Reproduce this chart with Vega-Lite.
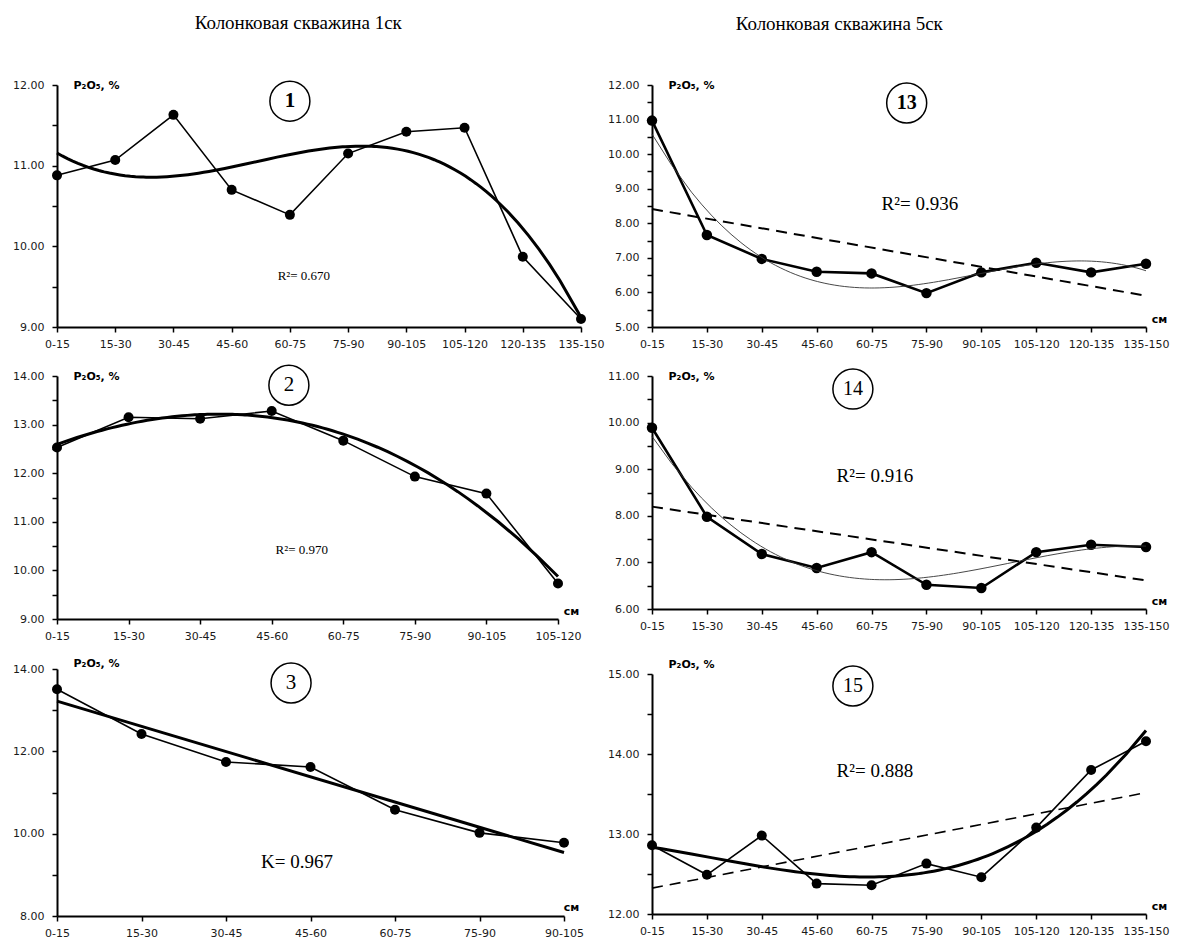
{
  "$schema": "https://vega.github.io/schema/vega-lite/v6.json",
  "background": "white",
  "padding": {"left": 12, "top": 14, "right": 2, "bottom": 2},
  "datasets": {
    "pts": [
      {"p": 1, "i": 1, "v": 10.88}, {"p": 1, "i": 2, "v": 11.07}, {"p": 1, "i": 3, "v": 11.63}, {"p": 1, "i": 4, "v": 10.70}, {"p": 1, "i": 5, "v": 10.39},
      {"p": 1, "i": 6, "v": 11.15}, {"p": 1, "i": 7, "v": 11.42}, {"p": 1, "i": 8, "v": 11.47}, {"p": 1, "i": 9, "v": 9.87}, {"p": 1, "i": 10, "v": 9.10},
      {"p": 2, "i": 1, "v": 12.53}, {"p": 2, "i": 2, "v": 13.15}, {"p": 2, "i": 3, "v": 13.12}, {"p": 2, "i": 4, "v": 13.28}, {"p": 2, "i": 5, "v": 12.67},
      {"p": 2, "i": 6, "v": 11.93}, {"p": 2, "i": 7, "v": 11.58}, {"p": 2, "i": 8, "v": 9.73},
      {"p": 3, "i": 1, "v": 13.51}, {"p": 3, "i": 2, "v": 12.42}, {"p": 3, "i": 3, "v": 11.74}, {"p": 3, "i": 4, "v": 11.62}, {"p": 3, "i": 5, "v": 10.58},
      {"p": 3, "i": 6, "v": 10.02}, {"p": 3, "i": 7, "v": 9.78},
      {"p": 13, "i": 1, "v": 10.97}, {"p": 13, "i": 2, "v": 7.66}, {"p": 13, "i": 3, "v": 6.97}, {"p": 13, "i": 4, "v": 6.60}, {"p": 13, "i": 5, "v": 6.55},
      {"p": 13, "i": 6, "v": 5.98}, {"p": 13, "i": 7, "v": 6.58}, {"p": 13, "i": 8, "v": 6.86}, {"p": 13, "i": 9, "v": 6.58}, {"p": 13, "i": 10, "v": 6.83},
      {"p": 14, "i": 1, "v": 9.89}, {"p": 14, "i": 2, "v": 7.98}, {"p": 14, "i": 3, "v": 7.18}, {"p": 14, "i": 4, "v": 6.88}, {"p": 14, "i": 5, "v": 7.22},
      {"p": 14, "i": 6, "v": 6.52}, {"p": 14, "i": 7, "v": 6.45}, {"p": 14, "i": 8, "v": 7.22}, {"p": 14, "i": 9, "v": 7.38}, {"p": 14, "i": 10, "v": 7.33},
      {"p": 15, "i": 1, "v": 12.86}, {"p": 15, "i": 2, "v": 12.49}, {"p": 15, "i": 3, "v": 12.98}, {"p": 15, "i": 4, "v": 12.38}, {"p": 15, "i": 5, "v": 12.36},
      {"p": 15, "i": 6, "v": 12.63}, {"p": 15, "i": 7, "v": 12.46}, {"p": 15, "i": 8, "v": 13.08}, {"p": 15, "i": 9, "v": 13.80}, {"p": 15, "i": 10, "v": 14.16}
    ],
    "notes": [
      {"p": 1, "k": "c", "i": 5.0, "v": 11.8, "t": "1"},
      {"p": 1, "k": "r", "i": 5.24, "v": 9.63, "t": "R²= 0.670"},
      {"p": 2, "k": "c", "i": 4.24, "v": 13.81, "t": "2"},
      {"p": 2, "k": "r", "i": 4.42, "v": 10.42, "t": "R²= 0.970"},
      {"p": 3, "k": "c", "i": 3.77, "v": 13.66, "t": "3"},
      {"p": 3, "k": "r", "i": 3.84, "v": 9.32, "t": "K= 0.967"},
      {"p": 13, "k": "c", "i": 5.64, "v": 11.48, "t": "13"},
      {"p": 13, "k": "r", "i": 5.88, "v": 8.55, "t": "R²= 0.936"},
      {"p": 14, "k": "c", "i": 4.66, "v": 10.72, "t": "14"},
      {"p": 14, "k": "r", "i": 5.06, "v": 8.85, "t": "R²= 0.916"},
      {"p": 15, "k": "c", "i": 4.66, "v": 14.85, "t": "15"},
      {"p": 15, "k": "r", "i": 5.06, "v": 13.79, "t": "R²= 0.888"}
    ]
  },
  "spacing": 3,
  "hconcat": [
    {
      "title": {"text": "Колонковая скважина 1ск", "anchor": "middle", "font": "Liberation Serif", "fontSize": 19, "fontWeight": "normal", "offset": 45, "dx": -10},
      "spacing": 16,
      "vconcat": [
        {
          "spacing": 13,
          "vconcat": [
            {
              "width": 524, "height": 242,
              "layer": [
                {"data": {"name": "pts"}, "transform": [{"filter": "datum.p == 1"}],
                 "mark": {"type": "line", "color": "black", "strokeWidth": 1.6, "point": {"filled": true, "size": 100, "color": "black"}},
                 "encoding": {
                   "x": {"field": "i", "type": "quantitative", "scale": {"domain": [1, 10], "nice": false, "zero": false},
                         "axis": {"values": [1,2,3,4,5,6,7,8,9,10], "labelExpr": "['0-15','15-30','30-45','45-60','60-75','75-90','90-105','105-120','120-135','135-150'][datum.value-1]", "title": null, "labelOverlap": false, "labelFlush": false}},
                   "y": {"field": "v", "type": "quantitative", "scale": {"domain": [9, 12], "nice": false, "zero": false},
                         "axis": {"values": [9,9.5,10,10.5,11,11.5,12], "labelExpr": "round(datum.value * 2) % 2 == 0 ? format(datum.value, '.2f') : ''", "labelOverlap": false, "title": "P₂O₅, %", "titleX": 16, "titleY": 0, "titleAngle": 0, "titleAlign": "left", "titleBaseline": "middle"}}
                 }},
                {"data": {"name": "pts"}, "transform": [{"filter": "datum.p == 1"}, {"regression": "v", "on": "i", "method": "poly", "order": 3}],
                 "mark": {"type": "line", "color": "black", "strokeWidth": 3},
                 "encoding": {"x": {"field": "i", "type": "quantitative"}, "y": {"field": "v", "type": "quantitative"}}},
                {"data": {"name": "notes"}, "transform": [{"filter": "datum.p == 1 && datum.k == 'c'"}],
                 "mark": {"type": "point", "shape": "circle", "size": 1600, "filled": false, "stroke": "black", "strokeWidth": 1.5, "opacity": 1},
                 "encoding": {"x": {"field": "i", "type": "quantitative"}, "y": {"field": "v", "type": "quantitative"}}},
                {"data": {"name": "notes"}, "transform": [{"filter": "datum.p == 1 && datum.k == 'c'"}],
                 "mark": {"type": "text", "font": "Liberation Serif", "fontSize": 21, "fontWeight": "bold", "color": "black", "baseline": "middle"},
                 "encoding": {"x": {"field": "i", "type": "quantitative"}, "y": {"field": "v", "type": "quantitative"}, "text": {"field": "t"}}},
                {"data": {"name": "notes"}, "transform": [{"filter": "datum.p == 1 && datum.k == 'r'"}],
                 "mark": {"type": "text", "font": "Liberation Serif", "fontSize": 13, "color": "black", "baseline": "middle"},
                 "encoding": {"x": {"field": "i", "type": "quantitative"}, "y": {"field": "v", "type": "quantitative"}, "text": {"field": "t"}}}
              ]
            },
            {
              "width": 501, "height": 243,
              "layer": [
                {"data": {"name": "pts"}, "transform": [{"filter": "datum.p == 2"}],
                 "mark": {"type": "line", "color": "black", "strokeWidth": 1.6, "point": {"filled": true, "size": 100, "color": "black"}},
                 "encoding": {
                   "x": {"field": "i", "type": "quantitative", "scale": {"domain": [1, 8], "nice": false, "zero": false},
                         "axis": {"values": [1,2,3,4,5,6,7,8], "labelExpr": "['0-15','15-30','30-45','45-60','60-75','75-90','90-105','105-120','120-135','135-150'][datum.value-1]", "title": "см", "titleX": 514, "titleY": -8, "titleAngle": 0, "titleAlign": "center", "titleBaseline": "middle", "labelOverlap": false, "labelFlush": false}},
                   "y": {"field": "v", "type": "quantitative", "scale": {"domain": [9, 14], "nice": false, "zero": false},
                         "axis": {"values": [9,9.5,10,10.5,11,11.5,12,12.5,13,13.5,14], "labelExpr": "round(datum.value * 2) % 2 == 0 ? format(datum.value, '.2f') : ''", "labelOverlap": false, "title": "P₂O₅, %", "titleX": 16, "titleY": 0, "titleAngle": 0, "titleAlign": "left", "titleBaseline": "middle"}}
                 }},
                {"data": {"name": "pts"}, "transform": [{"filter": "datum.p == 2"}, {"regression": "v", "on": "i", "method": "poly", "order": 3}],
                 "mark": {"type": "line", "color": "black", "strokeWidth": 3},
                 "encoding": {"x": {"field": "i", "type": "quantitative"}, "y": {"field": "v", "type": "quantitative"}}},
                {"data": {"name": "notes"}, "transform": [{"filter": "datum.p == 2 && datum.k == 'c'"}],
                 "mark": {"type": "point", "shape": "circle", "size": 1600, "filled": false, "stroke": "black", "strokeWidth": 1.5, "opacity": 1},
                 "encoding": {"x": {"field": "i", "type": "quantitative"}, "y": {"field": "v", "type": "quantitative"}}},
                {"data": {"name": "notes"}, "transform": [{"filter": "datum.p == 2 && datum.k == 'c'"}],
                 "mark": {"type": "text", "font": "Liberation Serif", "fontSize": 21, "fontWeight": "normal", "color": "black", "baseline": "middle"},
                 "encoding": {"x": {"field": "i", "type": "quantitative"}, "y": {"field": "v", "type": "quantitative"}, "text": {"field": "t"}}},
                {"data": {"name": "notes"}, "transform": [{"filter": "datum.p == 2 && datum.k == 'r'"}],
                 "mark": {"type": "text", "font": "Liberation Serif", "fontSize": 13, "color": "black", "baseline": "middle"},
                 "encoding": {"x": {"field": "i", "type": "quantitative"}, "y": {"field": "v", "type": "quantitative"}, "text": {"field": "t"}}}
              ]
            }
          ]
        },
        {
          "width": 507, "height": 247,
          "layer": [
            {"data": {"name": "pts"}, "transform": [{"filter": "datum.p == 3"}],
             "mark": {"type": "line", "color": "black", "strokeWidth": 1.6, "point": {"filled": true, "size": 100, "color": "black"}},
             "encoding": {
               "x": {"field": "i", "type": "quantitative", "scale": {"domain": [1, 7], "nice": false, "zero": false},
                     "axis": {"values": [1,2,3,4,5,6,7], "labelExpr": "['0-15','15-30','30-45','45-60','60-75','75-90','90-105','105-120','120-135','135-150'][datum.value-1]", "title": "см", "titleX": 514, "titleY": -9, "titleAngle": 0, "titleAlign": "center", "titleBaseline": "middle", "labelOverlap": false, "labelFlush": false}},
               "y": {"field": "v", "type": "quantitative", "scale": {"domain": [8, 14], "nice": false, "zero": false},
                     "axis": {"values": [8,9,10,11,12,13,14], "labelExpr": "round(datum.value) % 2 == 0 ? format(datum.value, '.2f') : ''", "labelOverlap": false, "title": "P₂O₅, %", "titleX": 16, "titleY": -6, "titleAngle": 0, "titleAlign": "left", "titleBaseline": "middle"}}
             }},
            {"data": {"name": "pts"}, "transform": [{"filter": "datum.p == 3"}, {"regression": "v", "on": "i", "method": "linear"}],
             "mark": {"type": "line", "color": "black", "strokeWidth": 3},
             "encoding": {"x": {"field": "i", "type": "quantitative"}, "y": {"field": "v", "type": "quantitative"}}},
            {"data": {"name": "notes"}, "transform": [{"filter": "datum.p == 3 && datum.k == 'c'"}],
             "mark": {"type": "point", "shape": "circle", "size": 1600, "filled": false, "stroke": "black", "strokeWidth": 1.5, "opacity": 1},
             "encoding": {"x": {"field": "i", "type": "quantitative"}, "y": {"field": "v", "type": "quantitative"}}},
            {"data": {"name": "notes"}, "transform": [{"filter": "datum.p == 3 && datum.k == 'c'"}],
             "mark": {"type": "text", "font": "Liberation Serif", "fontSize": 21, "fontWeight": "normal", "color": "black", "baseline": "middle"},
             "encoding": {"x": {"field": "i", "type": "quantitative"}, "y": {"field": "v", "type": "quantitative"}, "text": {"field": "t"}}},
            {"data": {"name": "notes"}, "transform": [{"filter": "datum.p == 3 && datum.k == 'r'"}],
             "mark": {"type": "text", "font": "Liberation Serif", "fontSize": 19, "color": "black", "baseline": "middle"},
             "encoding": {"x": {"field": "i", "type": "quantitative"}, "y": {"field": "v", "type": "quantitative"}, "text": {"field": "t"}}}
          ]
        }
      ]
    },
    {
      "title": {"text": "Колонковая скважина 5ск", "anchor": "middle", "font": "Liberation Serif", "fontSize": 19, "fontWeight": "normal", "offset": 45, "dx": -49},
      "spacing": 27,
      "vconcat": [
        {
          "spacing": 17,
          "vconcat": [
            {
              "width": 494, "height": 242,
              "layer": [
                {"data": {"name": "pts"}, "transform": [{"filter": "datum.p == 13"}],
                 "mark": {"type": "line", "color": "black", "strokeWidth": 2.6, "point": {"filled": true, "size": 110, "color": "black"}},
                 "encoding": {
                   "x": {"field": "i", "type": "quantitative", "scale": {"domain": [1, 10], "nice": false, "zero": false},
                         "axis": {"values": [1,2,3,4,5,6,7,8,9,10], "labelExpr": "['0-15','15-30','30-45','45-60','60-75','75-90','90-105','105-120','120-135','135-150'][datum.value-1]", "title": "см", "titleX": 507, "titleY": -8, "titleAngle": 0, "titleAlign": "center", "titleBaseline": "middle", "labelOverlap": false, "labelFlush": false}},
                   "y": {"field": "v", "type": "quantitative", "scale": {"domain": [5, 12], "nice": false, "zero": false},
                         "axis": {"values": [5,5.5,6,6.5,7,7.5,8,8.5,9,9.5,10,10.5,11,11.5,12], "tickCount": 100, "labelExpr": "round(datum.value * 2) % 2 == 0 ? format(datum.value, '.2f') : ''", "labelOverlap": false, "title": "P₂O₅, %", "titleX": 16, "titleY": 0, "titleAngle": 0, "titleAlign": "left", "titleBaseline": "middle"}}
                 }},
                {"data": {"name": "pts"}, "transform": [{"filter": "datum.p == 13"}, {"regression": "v", "on": "i", "method": "poly", "order": 3}],
                 "mark": {"type": "line", "color": "#333333", "strokeWidth": 0.9},
                 "encoding": {"x": {"field": "i", "type": "quantitative"}, "y": {"field": "v", "type": "quantitative"}}},
                {"data": {"name": "pts"}, "transform": [{"filter": "datum.p == 13"}, {"regression": "v", "on": "i", "method": "linear"}],
                 "mark": {"type": "line", "color": "black", "strokeWidth": 2, "strokeDash": [11, 7]},
                 "encoding": {"x": {"field": "i", "type": "quantitative"}, "y": {"field": "v", "type": "quantitative"}}},
                {"data": {"name": "notes"}, "transform": [{"filter": "datum.p == 13 && datum.k == 'c'"}],
                 "mark": {"type": "point", "shape": "circle", "size": 1600, "filled": false, "stroke": "black", "strokeWidth": 1.5, "opacity": 1},
                 "encoding": {"x": {"field": "i", "type": "quantitative"}, "y": {"field": "v", "type": "quantitative"}}},
                {"data": {"name": "notes"}, "transform": [{"filter": "datum.p == 13 && datum.k == 'c'"}],
                 "mark": {"type": "text", "font": "Liberation Serif", "fontSize": 20, "fontWeight": "bold", "color": "black", "baseline": "middle"},
                 "encoding": {"x": {"field": "i", "type": "quantitative"}, "y": {"field": "v", "type": "quantitative"}, "text": {"field": "t"}}},
                {"data": {"name": "notes"}, "transform": [{"filter": "datum.p == 13 && datum.k == 'r'"}],
                 "mark": {"type": "text", "font": "Liberation Serif", "fontSize": 19, "color": "black", "baseline": "middle"},
                 "encoding": {"x": {"field": "i", "type": "quantitative"}, "y": {"field": "v", "type": "quantitative"}, "text": {"field": "t"}}}
              ]
            },
            {
              "width": 494, "height": 233,
              "layer": [
                {"data": {"name": "pts"}, "transform": [{"filter": "datum.p == 14"}],
                 "mark": {"type": "line", "color": "black", "strokeWidth": 2.6, "point": {"filled": true, "size": 110, "color": "black"}},
                 "encoding": {
                   "x": {"field": "i", "type": "quantitative", "scale": {"domain": [1, 10], "nice": false, "zero": false},
                         "axis": {"values": [1,2,3,4,5,6,7,8,9,10], "labelExpr": "['0-15','15-30','30-45','45-60','60-75','75-90','90-105','105-120','120-135','135-150'][datum.value-1]", "title": "см", "titleX": 507, "titleY": -8, "titleAngle": 0, "titleAlign": "center", "titleBaseline": "middle", "labelOverlap": false, "labelFlush": false}},
                   "y": {"field": "v", "type": "quantitative", "scale": {"domain": [6, 11], "nice": false, "zero": false},
                         "axis": {"values": [6,6.5,7,7.5,8,8.5,9,9.5,10,10.5,11], "tickCount": 100, "labelExpr": "round(datum.value * 2) % 2 == 0 ? format(datum.value, '.2f') : ''", "labelOverlap": false, "title": "P₂O₅, %", "titleX": 16, "titleY": 0, "titleAngle": 0, "titleAlign": "left", "titleBaseline": "middle"}}
                 }},
                {"data": {"name": "pts"}, "transform": [{"filter": "datum.p == 14"}, {"regression": "v", "on": "i", "method": "poly", "order": 3}],
                 "mark": {"type": "line", "color": "#333333", "strokeWidth": 0.9},
                 "encoding": {"x": {"field": "i", "type": "quantitative"}, "y": {"field": "v", "type": "quantitative"}}},
                {"data": {"name": "pts"}, "transform": [{"filter": "datum.p == 14"}, {"regression": "v", "on": "i", "method": "linear"}],
                 "mark": {"type": "line", "color": "black", "strokeWidth": 2, "strokeDash": [11, 7]},
                 "encoding": {"x": {"field": "i", "type": "quantitative"}, "y": {"field": "v", "type": "quantitative"}}},
                {"data": {"name": "notes"}, "transform": [{"filter": "datum.p == 14 && datum.k == 'c'"}],
                 "mark": {"type": "point", "shape": "circle", "size": 1600, "filled": false, "stroke": "black", "strokeWidth": 1.5, "opacity": 1},
                 "encoding": {"x": {"field": "i", "type": "quantitative"}, "y": {"field": "v", "type": "quantitative"}}},
                {"data": {"name": "notes"}, "transform": [{"filter": "datum.p == 14 && datum.k == 'c'"}],
                 "mark": {"type": "text", "font": "Liberation Serif", "fontSize": 20, "fontWeight": "normal", "color": "black", "baseline": "middle"},
                 "encoding": {"x": {"field": "i", "type": "quantitative"}, "y": {"field": "v", "type": "quantitative"}, "text": {"field": "t"}}},
                {"data": {"name": "notes"}, "transform": [{"filter": "datum.p == 14 && datum.k == 'r'"}],
                 "mark": {"type": "text", "font": "Liberation Serif", "fontSize": 19, "color": "black", "baseline": "middle"},
                 "encoding": {"x": {"field": "i", "type": "quantitative"}, "y": {"field": "v", "type": "quantitative"}, "text": {"field": "t"}}}
              ]
            }
          ]
        },
        {
          "width": 494, "height": 240,
          "layer": [
            {"data": {"name": "pts"}, "transform": [{"filter": "datum.p == 15"}],
             "mark": {"type": "line", "color": "black", "strokeWidth": 1.6, "point": {"filled": true, "size": 100, "color": "black"}},
             "encoding": {
               "x": {"field": "i", "type": "quantitative", "scale": {"domain": [1, 10], "nice": false, "zero": false},
                     "axis": {"values": [1,2,3,4,5,6,7,8,9,10], "labelExpr": "['0-15','15-30','30-45','45-60','60-75','75-90','90-105','105-120','120-135','135-150'][datum.value-1]", "title": "см", "titleX": 507, "titleY": -8, "titleAngle": 0, "titleAlign": "center", "titleBaseline": "middle", "labelOverlap": false, "labelFlush": false}},
               "y": {"field": "v", "type": "quantitative", "scale": {"domain": [12, 15], "nice": false, "zero": false},
                     "axis": {"values": [12,12.5,13,13.5,14,14.5,15], "tickCount": 100, "labelExpr": "round(datum.value * 2) % 2 == 0 ? format(datum.value, '.2f') : ''", "labelOverlap": false, "title": "P₂O₅, %", "titleX": 16, "titleY": -10, "titleAngle": 0, "titleAlign": "left", "titleBaseline": "middle"}}
             }},
            {"data": {"name": "pts"}, "transform": [{"filter": "datum.p == 15"}, {"regression": "v", "on": "i", "method": "poly", "order": 3}],
             "mark": {"type": "line", "color": "black", "strokeWidth": 3},
             "encoding": {"x": {"field": "i", "type": "quantitative"}, "y": {"field": "v", "type": "quantitative"}}},
            {"data": {"name": "pts"}, "transform": [{"filter": "datum.p == 15"}, {"regression": "v", "on": "i", "method": "linear"}],
             "mark": {"type": "line", "color": "black", "strokeWidth": 1.6, "strokeDash": [11, 7]},
             "encoding": {"x": {"field": "i", "type": "quantitative"}, "y": {"field": "v", "type": "quantitative"}}},
            {"data": {"name": "notes"}, "transform": [{"filter": "datum.p == 15 && datum.k == 'c'"}],
             "mark": {"type": "point", "shape": "circle", "size": 1600, "filled": false, "stroke": "black", "strokeWidth": 1.5, "opacity": 1},
             "encoding": {"x": {"field": "i", "type": "quantitative"}, "y": {"field": "v", "type": "quantitative"}}},
            {"data": {"name": "notes"}, "transform": [{"filter": "datum.p == 15 && datum.k == 'c'"}],
             "mark": {"type": "text", "font": "Liberation Serif", "fontSize": 20, "fontWeight": "normal", "color": "black", "baseline": "middle"},
             "encoding": {"x": {"field": "i", "type": "quantitative"}, "y": {"field": "v", "type": "quantitative"}, "text": {"field": "t"}}},
            {"data": {"name": "notes"}, "transform": [{"filter": "datum.p == 15 && datum.k == 'r'"}],
             "mark": {"type": "text", "font": "Liberation Serif", "fontSize": 19, "color": "black", "baseline": "middle"},
             "encoding": {"x": {"field": "i", "type": "quantitative"}, "y": {"field": "v", "type": "quantitative"}, "text": {"field": "t"}}}
          ]
        }
      ]
    }
  ],
  "config": {
    "view": {"stroke": null},
    "axis": {"grid": false, "domainColor": "black", "domainWidth": 2, "tickColor": "black", "tickWidth": 1.5, "tickSize": 5, "tickCount": 100,
             "labelFont": "DejaVu Sans", "labelFontSize": 11, "labelColor": "#1a1a1a", "labelOverlap": false,
             "titleFont": "DejaVu Sans", "titleFontSize": 11, "titleFontWeight": "bold", "titleColor": "black"},
    "axisX": {"labelPadding": 6},
    "axisY": {"labelPadding": 8, "labelOverlap": false}
  }
}
